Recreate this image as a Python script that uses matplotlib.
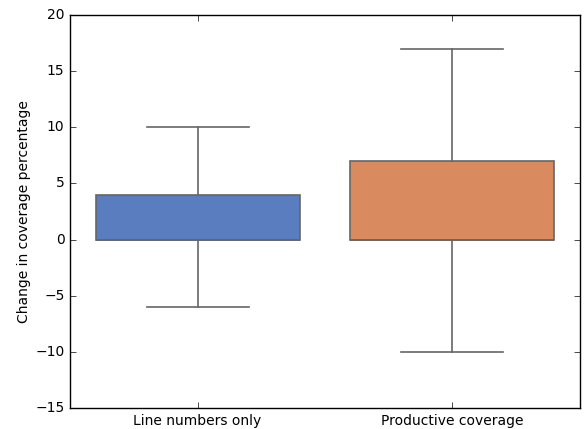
import matplotlib
matplotlib.use("Agg")
import matplotlib.pyplot as plt

plt.style.use("classic")

categories = ["Line numbers only", "Productive coverage"]
whislo = [-6, -10]
q1 = [0, 0]
median = [0, 0]
q3 = [4, 7]
whishi = [10, 17]
colors = ["#597dbf", "#d98b5f"]

fig = plt.figure(figsize=(5.84, 4.29), dpi=100)
fig.patch.set_facecolor("white")
ax = fig.add_axes([0.12, 0.049, 0.873, 0.916])

stats = [dict(label=c, whislo=lo, q1=a, med=m, q3=b, whishi=hi, fliers=[])
         for c, lo, a, m, b, hi in zip(categories, whislo, q1, median, q3, whishi)]
line_color = "#666666"
lw = 1.2
bp = ax.bxp(stats, positions=range(len(categories)), widths=0.8, patch_artist=True,
            showfliers=False,
            boxprops=dict(edgecolor=line_color, linewidth=lw),
            whiskerprops=dict(color=line_color, linewidth=lw, linestyle="-"),
            capprops=dict(color=line_color, linewidth=lw),
            medianprops=dict(color=line_color, linewidth=lw))
for patch, c in zip(bp["boxes"], colors):
    patch.set_facecolor(c)
for cap in bp["caps"]:
    x = cap.get_xdata()
    mid = (x[0] + x[1]) / 2
    cap.set_xdata([mid - 0.2, mid + 0.2])

ax.set_xlim(-0.5, 1.5)
ax.set_ylim(-15, 20)
ax.set_xticks(range(len(categories)))
ax.set_xticklabels(categories, fontsize=10)
ax.tick_params(axis="y", labelsize=10)
ax.set_ylabel("Change in coverage percentage", fontsize=10, labelpad=3)

fig.savefig("out.png", dpi=100, facecolor="white")
